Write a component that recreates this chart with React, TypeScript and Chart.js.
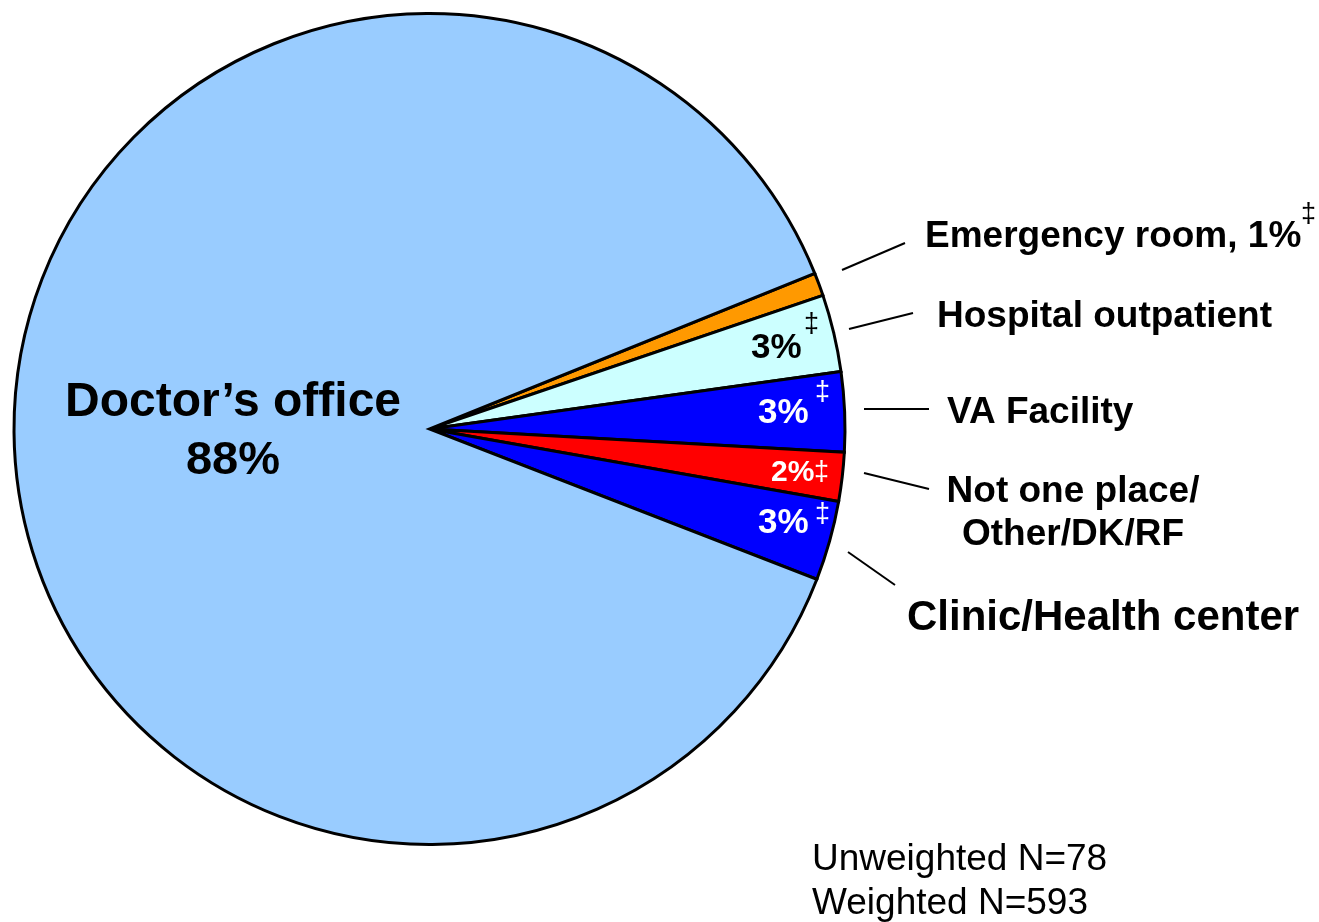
import React, { useEffect, useRef } from "react";
import { Chart, registerables } from "chart.js";

Chart.register(...registerables);

const categories = [
  "Emergency room",
  "Hospital outpatient",
  "VA Facility",
  "Not one place/Other/DK/RF",
  "Clinic/Health center",
  "Doctor’s office",
];
const shares = [0.9, 3.0, 3.1, 1.9, 3.1, 88.0];
const sliceColors = ["#FF9900", "#CCFFFF", "#0000FF", "#FF0000", "#0000FF", "#99CCFF"];

type Txt = {
  t: string;
  x: number;
  y: number;
  size: number;
  bold?: boolean;
  color?: string;
  align?: CanvasTextAlign;
};

const texts: Txt[] = [
  { t: "Doctor’s office", x: 233, y: 416, size: 48, bold: true, align: "center" },
  { t: "88%", x: 233, y: 474, size: 47, bold: true, align: "center" },
  { t: "Emergency room, 1%", x: 925, y: 247, size: 37, bold: true },
  { t: "‡", x: 1301, y: 222, size: 27 },
  { t: "Hospital outpatient", x: 937, y: 327, size: 37, bold: true },
  { t: "VA Facility", x: 947, y: 423, size: 37, bold: true },
  { t: "Not one place/", x: 1073, y: 502, size: 37, bold: true, align: "center" },
  { t: "Other/DK/RF", x: 1073, y: 545, size: 37, bold: true, align: "center" },
  { t: "Clinic/Health center", x: 907, y: 630, size: 42, bold: true },
  { t: "3%", x: 751, y: 358, size: 35, bold: true },
  { t: "‡", x: 804, y: 332, size: 27 },
  { t: "3%", x: 758, y: 423, size: 35, bold: true, color: "#FFFFFF" },
  { t: "‡", x: 815, y: 400, size: 27, color: "#FFFFFF" },
  { t: "2%", x: 771, y: 481, size: 30, bold: true, color: "#FFFFFF" },
  { t: "‡", x: 814, y: 480, size: 27, color: "#FFFFFF" },
  { t: "3%", x: 758, y: 533, size: 35, bold: true, color: "#FFFFFF" },
  { t: "‡", x: 815, y: 522, size: 27, color: "#FFFFFF" },
  { t: "Unweighted N=78", x: 812, y: 870, size: 37 },
  { t: "Weighted N=593", x: 812, y: 914, size: 37 },
];

const leaders: [number, number, number, number][] = [
  [842, 270, 905, 243],
  [849, 329, 913, 313],
  [864, 409, 929, 409],
  [864, 473, 929, 489],
  [848, 552, 895, 585],
];

const annotationPlugin = {
  id: "annotations",
  afterDraw(chart: any) {
    const ctx: CanvasRenderingContext2D = chart.ctx;
    ctx.save();
    ctx.strokeStyle = "#000000";
    ctx.lineWidth = 2;
    leaders.forEach(([x1, y1, x2, y2]) => {
      ctx.beginPath();
      ctx.moveTo(x1, y1);
      ctx.lineTo(x2, y2);
      ctx.stroke();
    });
    ctx.textBaseline = "alphabetic";
    texts.forEach((d) => {
      ctx.font = `${d.bold ? "bold " : ""}${d.size}px "Liberation Sans", Arial, sans-serif`;
      ctx.fillStyle = d.color || "#000000";
      ctx.textAlign = d.align || "left";
      ctx.fillText(d.t, d.x, d.y);
    });
    ctx.restore();
  },
};

export default function App() {
  const ref = useRef<HTMLCanvasElement | null>(null);
  useEffect(() => {
    if (!ref.current) return;
    const chart = new Chart(ref.current, {
      type: "pie",
      data: {
        labels: categories,
        datasets: [
          {
            data: shares,
            backgroundColor: sliceColors,
            borderColor: "#000000",
            borderWidth: 3,
            borderJoinStyle: "miter" as any,
          },
        ],
      },
      options: {
        animation: false,
        responsive: true,
        maintainAspectRatio: false,
        rotation: 68,
        layout: { padding: { left: 12, right: 472, top: 12, bottom: 76 } },
        plugins: {
          legend: { display: false },
          tooltip: { enabled: false },
          title: { display: false },
        },
      },
      plugins: [annotationPlugin],
    });
    return () => chart.destroy();
  }, []);
  return (
    <div style={{ position: "absolute", left: 0, top: 0, width: 1319, height: 922, background: "#FFFFFF" }}>
      <canvas ref={ref} />
    </div>
  );
}
